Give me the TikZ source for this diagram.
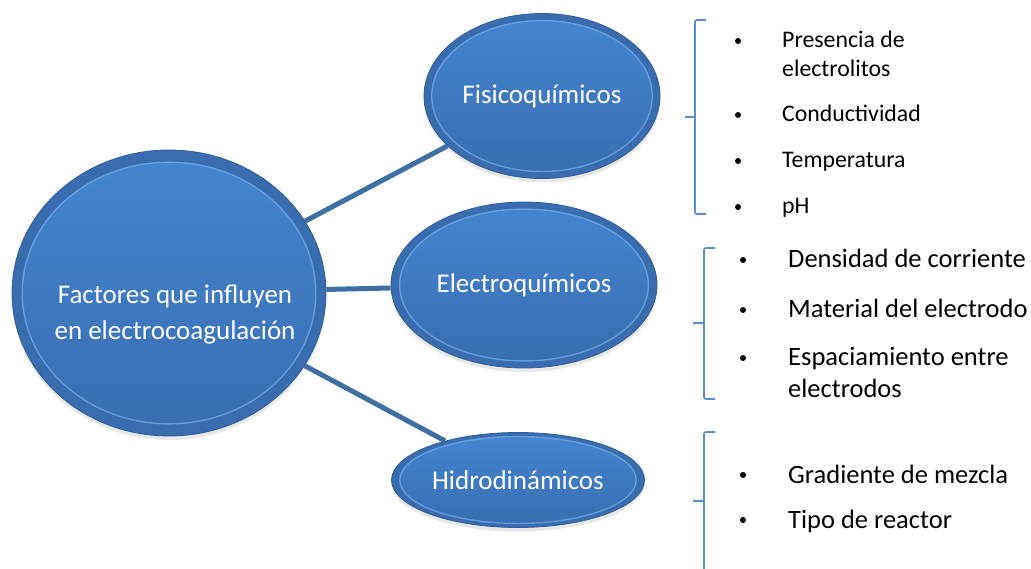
\documentclass[tikz,border=0pt]{standalone}
\usepackage{fontspec}
\setmainfont{Carlito}
\usetikzlibrary{shapes.geometric,shadows,calc}
\definecolor{bubbleedge}{HTML}{2E5D97}
\definecolor{bubbleouter}{HTML}{3A6DB0}
\definecolor{bubbletop}{HTML}{4686D2}
\definecolor{bubblebot}{HTML}{386DB0}
\definecolor{bubblerim}{HTML}{80B8F2}
\definecolor{linkc}{HTML}{3F6EA3}
\definecolor{bracec}{HTML}{5A8BCB}
\tikzset{
  bubble/.style={ellipse, inner sep=0pt, draw=bubbleedge, line width=0.8pt,
    fill=bubbleouter, text=white,
    drop shadow={shadow xshift=0pt, shadow yshift=-4pt, opacity=0.18},
    path picture={
      \path let \p1=($(path picture bounding box.north east)-(path picture bounding box.center)$) in
        [top color=bubbletop, bottom color=bubblebot, draw=bubblerim, draw opacity=0.6, line width=1.4pt]
        (path picture bounding box.center) ellipse [x radius=0.935*\x1, y radius=0.915*\y1];
    }},
  bubtxt/.style={font=\fontsize{27}{32}\selectfont},
  link/.style={draw=linkc, line width=5pt},
  bracepath/.style={draw=bracec, line width=1.8pt, rounded corners=2pt},
  itemA/.style={anchor=base west, inner sep=0pt, font=\fontsize{23.8}{29}\selectfont},
  itemB/.style={anchor=base west, inner sep=0pt, font=\fontsize{26.5}{32}\selectfont},
  bullet/.style={circle, fill=black, inner sep=0pt, minimum size=6pt}
}
\begin{document}
\begin{tikzpicture}[x=1pt, y=-1pt]
\useasboundingbox (0,0) rectangle (1031,569);

% bubbles
\node[bubble, minimum width=314pt, minimum height=286pt] (big) at (169,293) {};
\node[bubble, bubtxt, minimum width=236pt, minimum height=165pt] (fis) at (542,96) {Fisicoquímicos};
\node[bubble, bubtxt, minimum width=266pt, minimum height=166pt] (ele) at (524,285) {Electroquímicos};
\node[bubble, bubtxt, minimum width=253pt, minimum height=95pt] (hid) at (518,480) {Hidrodinámicos};
\node[bubtxt, text=white, align=center, font=\fontsize{27}{36}\selectfont] (bigtxt) at (175,315)
  {Factores que influyen\\en electrocoagulación};

% connectors
\draw[link] (big) -- (fis);
\draw[link] (big) -- (ele);
\draw[link] (big) -- (hid);

% braces
\draw[bracepath] (706,20) -- (695,20) -- (695,214) -- (706,214);
\draw[bracepath] (685,117) -- (695,117);
\draw[bracepath] (715,248) -- (704,248) -- (704,399) -- (715,399);
\draw[bracepath] (693,323) -- (704,323);
\draw[bracepath] (715,432) -- (704,432) -- (704,569);
\draw[bracepath] (693,501) -- (704,501);

% list 1
\node[bullet] (b1) at (738,41) {};
\node[itemA] (t1a) at (782,48) {Presencia de};
\node[itemA] (t1b) at (782,77) {electrolitos};
\node[bullet] (b2) at (738,115) {};
\node[itemA] (t2) at (782,122) {Conductividad};
\node[bullet] (b3) at (738,161) {};
\node[itemA] (t3) at (782,168) {Temperatura};
\node[bullet] (b4) at (738,207) {};
\node[itemA] (t4) at (782,214) {pH};

% list 2
\node[bullet] (b5) at (743,260) {};
\node[itemB] (t5) at (788,268) {Densidad de corriente};
\node[bullet] (b6) at (743,310) {};
\node[itemB] (t6) at (788,318) {Material del electrodo};
\node[bullet] (b7) at (743,358) {};
\node[itemB] (t7a) at (788,366) {Espaciamiento entre};
\node[itemB] (t7b) at (788,397) {electrodos};

% list 3
\node[bullet] (b8) at (743,475) {};
\node[itemB] (t8) at (788,483) {Gradiente de mezcla};
\node[bullet] (b9) at (743,520) {};
\node[itemB] (t9) at (788,528) {Tipo de reactor};
\end{tikzpicture}
\end{document}
